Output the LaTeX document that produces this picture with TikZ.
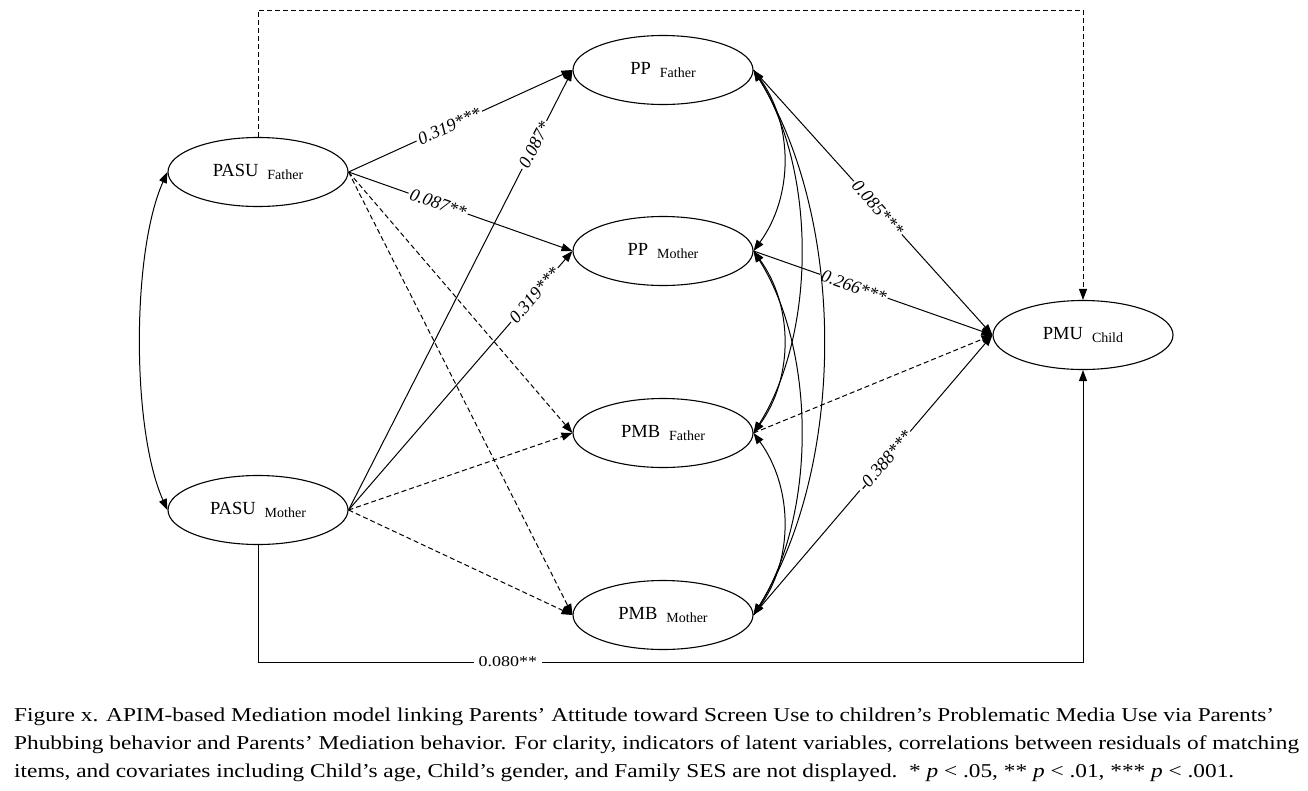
\documentclass[tikz,border=0pt]{standalone}
\usepackage{fontspec}
\setmainfont{Liberation Serif}
\newfontfamily\capfont[FakeStretch=1.19]{Liberation Serif}
\newfontfamily\botfont[FakeStretch=1.2]{Liberation Serif}
\usetikzlibrary{arrows.meta,shapes.geometric}
\newcommand{\subtxt}[1]{\hspace{9pt}\raisebox{-2.5pt}{\fontsize{14}{14}\selectfont #1}}
\tikzset{
  lat/.style={ellipse,draw,line width=1.1pt,minimum width=180pt,minimum height=69pt,inner sep=0pt,font=\fontsize{18.5}{18.5}\selectfont},
  arrowtip/.style={-{Triangle[length=11pt,width=8pt]}},
  pth/.style={line width=1pt,arrowtip},
  dpth/.style={line width=1pt,arrowtip,dash pattern=on 5pt off 3pt},
  cov/.style={line width=1pt,{Triangle[length=11pt,width=8pt]}-{Triangle[length=11pt,width=8pt]}},
  lbl/.style={fill=white,inner sep=2pt,font=\fontsize{18}{18}\selectfont\itshape},
  lblup/.style={fill=white,inner sep=5pt,font=\botfont\fontsize{15}{15}\selectfont},
  captext/.style={anchor=base west,inner sep=0pt,font=\capfont\fontsize{19.6}{19.6}\selectfont}
}
\begin{document}
\begin{tikzpicture}[x=1pt,y=-1pt]
\useasboundingbox[fill=white] (0,0) rectangle (1308,790);
% nodes
\node[lat] (pasuf) at (258,172) {PASU\subtxt{Father}};
\node[lat] (pasum) at (258,510) {PASU\subtxt{Mother}};
\node[lat] (ppf) at (663,70) {PP\subtxt{Father}};
\node[lat] (ppm) at (663,251) {PP\subtxt{Mother}};
\node[lat] (pmbf) at (663,433) {PMB\subtxt{Father}};
\node[lat] (pmbm) at (663,615) {PMB\subtxt{Mother}};
\node[lat] (pmu) at (1083,335) {PMU\subtxt{Child}};
% corner coordinates
\coordinate (tl) at (258,10);
\coordinate (tr) at (1083,10);
\coordinate (bl) at (258,662);
\coordinate (br) at (1083,662);
% direct effects
\draw[dpth] (pasuf.north) -- (tl) -- (tr) -- (pmu.north);
\draw[pth] (pasum.south) -- (bl) -- node[lblup,pos=0.303]{0.080**} (br) -- (pmu.south);
% PASU covariance
\draw[cov] (pasuf.west) .. controls +(-36,80) and +(-36,-80) .. (pasum.west);
% a paths
\draw[pth] (pasuf.east) -- node[lbl,sloped,pos=0.45]{0.319***} (ppf.west);
\draw[pth] (pasuf.east) -- node[lbl,sloped,pos=0.40]{0.087**} (ppm.west);
\draw[dpth] (pasuf.east) -- (pmbf.west);
\draw[dpth] (pasuf.east) -- (pmbm.west);
\draw[pth] (pasum.east) -- node[lbl,sloped,pos=0.83]{0.087*} (ppf.west);
\draw[pth] (pasum.east) -- node[lbl,sloped,pos=0.83]{0.319***} (ppm.west);
\draw[dpth] (pasum.east) -- (pmbf.west);
\draw[dpth] (pasum.east) -- (pmbm.west);
% b paths
\draw[pth] (ppf.east) -- node[lbl,sloped,pos=0.52]{0.085***} (pmu.west);
\draw[pth] (ppm.east) -- node[lbl,sloped,pos=0.42]{0.266***} (pmu.west);
\draw[dpth] (pmbf.east) -- (pmu.west);
\draw[pth] (pmbm.east) -- node[lbl,sloped,pos=0.55]{-0.388***} (pmu.west);
% mediator covariances
\draw[cov] (ppf.east) .. controls +(40,55) and +(40,-55) .. (ppm.east);
\draw[cov] (ppm.east) .. controls +(40,55) and +(40,-55) .. (pmbf.east);
\draw[cov] (pmbf.east) .. controls +(40,55) and +(40,-55) .. (pmbm.east);
\draw[cov] (ppf.east) .. controls +(63,100) and +(63,-100) .. (pmbf.east);
\draw[cov] (ppm.east) .. controls +(63,100) and +(63,-100) .. (pmbm.east);
\draw[cov] (ppf.east) .. controls +(93,150) and +(93,-150) .. (pmbm.east);
% caption
\node[captext] (cap1) at (14,721) {Figure x. APIM-based Mediation model linking Parents’ Attitude toward Screen Use to children’s Problematic Media Use via Parents’};
\node[captext] (cap2) at (14,749) {Phubbing behavior and Parents’ Mediation behavior. For clarity, indicators of latent variables, correlations between residuals of matching};
\node[captext] (cap3) at (14,777) {items, and covariates including Child’s age, Child’s gender, and Family SES are not displayed.\ \ * \textit{p} < .05, ** \textit{p} < .01, *** \textit{p} < .001.};
\end{tikzpicture}
\end{document}
